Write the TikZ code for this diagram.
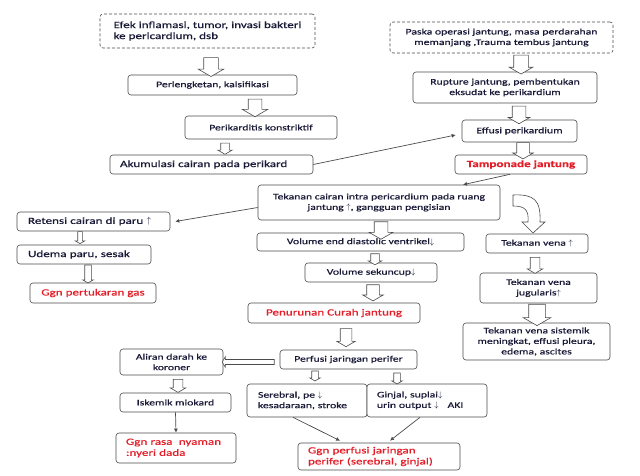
\documentclass[tikz,border=0pt]{standalone}
\usepackage{fontspec}
\setmainfont[FakeStretch=1.38,FakeBold=0.6]{Carlito}
\usetikzlibrary{shapes.arrows,arrows.meta}

\definecolor{garis}{RGB}{75,75,75}
\definecolor{teks}{RGB}{25,25,55}
\definecolor{merah}{RGB}{228,30,40}

\tikzset{
  kotak/.style={draw=garis, line width=0.6pt, rounded corners=3pt, fill=white,
    text=teks, align=center, inner sep=2pt, font=\fontsize{8.5}{10.5}\selectfont},
  besar/.style={font=\fontsize{9.5}{11}\selectfont},
  sumber/.style={kotak, dash pattern=on 3pt off 2pt},
  hasil/.style={text=merah},
  kiri/.style={align=left, text width=#1},
  blok/.style 2 args={single arrow, draw=garis, fill=white, line width=0.6pt,
    inner sep=#1, single arrow head extend=#2, single arrow tip angle=120,
    shape border rotate=270},
  panah/.style={draw=garis, line width=0.7pt, -{Latex[length=4pt,width=4pt]}}
}

\begin{document}
\begin{tikzpicture}[x=1pt, y=-1pt]
    \useasboundingbox (0,0) rectangle (640,476);

    % --- cabang kiri atas ---
    \node[sumber, besar, minimum width=215pt, minimum height=34pt, align=left] (src1) at (207.5,31)
        {Efek inflamasi, tumor, invasi bakteri\\ke pericardium, dsb};
    \node[kotak, minimum width=169pt, minimum height=20pt] (perleng) at (212.5,85) {Perlengketan, kalsifikasi};
    \node[kotak, minimum width=152pt, minimum height=23pt] (perikon) at (261,127.5) {Perikarditis konstriktif};
    \node[kotak, besar, kiri=183pt, minimum width=203pt, minimum height=19pt] (akum) at (211.5,164.5)
        {Akumulasi cairan pada perikard};

    % --- cabang kanan atas ---
    \node[sumber, minimum width=223pt, minimum height=31pt] (src2) at (501.5,37.5)
        {Paska operasi jantung, masa perdarahan\\memanjang ,Trauma tembus jantung};
    \node[kotak, minimum width=184pt, minimum height=31pt] (rupture) at (505,87.5)
        {Rupture jantung, pembentukan\\eksudat ke perikardium};
    \node[kotak, minimum width=115pt, minimum height=22pt] (effusi) at (519.5,131) {Effusi perikardium};
    \node[kotak, besar, hasil, minimum width=132pt, minimum height=19pt] (tampon) at (521,164.5)
        {\bfseries Tamponade jantung};

    % --- tengah ---
    \node[kotak, minimum width=242pt, minimum height=35pt] (tekanan) at (379,202.5)
        {Tekanan cairan intra pericardium pada ruang\\jantung $\uparrow$, gangguan pengisian};
    \node[kotak, minimum width=207pt, minimum height=18pt] (ved) at (360.5,242)
        {Volume end diastolic ventrikel$\downarrow$};
    \node[kotak, minimum width=132pt, minimum height=19pt] (vs) at (371,272.5) {Volume sekuncup$\downarrow$};
    \node[kotak, besar, hasil, minimum width=172pt, minimum height=20pt] (curah) at (334,313)
        {Penurunan Curah jantung};
    \node[kotak, minimum width=137pt, minimum height=19pt] (perfusi) at (348.5,359.5) {Perfusi jaringan perifer};

    % --- paru ---
    \node[kotak, besar, kiri=131pt, minimum width=153pt, minimum height=19pt] (retensi) at (93.5,221.5)
        {Retensi cairan di paru $\uparrow$};
    \node[kotak, besar, kiri=112pt, minimum width=134pt, minimum height=19pt] (udema) at (84,254.5)
        {Udema paru, sesak};
    \node[kotak, besar, hasil, minimum width=126pt, minimum height=20pt] (ggnpert) at (93,293)
        {Ggn pertukaran gas};

    % --- vena ---
    \node[kotak, minimum width=102pt, minimum height=19pt] (tekvena) at (537,243.5) {Tekanan vena $\uparrow$};
    \node[kotak, minimum width=117pt, minimum height=30pt] (jugul) at (538.5,288)
        {Tekanan vena\\jugularis$\uparrow$};
    \node[kotak, minimum width=147pt, minimum height=37pt] (sistemik) at (536.5,341.5)
        {Tekanan vena sistemik\\meningkat, effusi pleura,\\edema, ascites};

    % --- koroner ---
    \node[kotak, minimum width=103pt, minimum height=26pt] (aliran) at (171.5,362) {Aliran darah ke\\koroner};
    \node[kotak, minimum width=111pt, minimum height=19pt] (iskemik) at (175.5,402.5) {Iskemik miokard};
    \node[kotak, besar, hasil, kiri=100pt, minimum width=120pt, minimum height=30pt] (ggnrasa) at (176,448)
        {Ggn rasa~ nyaman\\:nyeri dada};

    % --- perifer ---
    \node[kotak, kiri=98pt, minimum width=120pt, minimum height=33pt] (serebral) at (307,400.5)
        {Serebral, pe $\downarrow$\\kesadaraan, stroke};
    \node[kotak, kiri=100pt, minimum width=120pt, minimum height=33pt] (ginjal) at (427,400.5)
        {Ginjal, suplai$\downarrow$\\urin output $\downarrow$\hspace{9pt}AKI};
    \node[kotak, besar, hasil, kiri=142pt, minimum width=162pt, minimum height=27pt] (ggnperf) at (379,456.5)
        {Ggn perfusi jaringan\\perifer (serebral, ginjal)};

    % --- panah blok ---
    \node[blok={7pt}{5.5pt}, minimum height=16pt] (a1) at (211,65) {};
    \node[blok={6.5pt}{6pt}, minimum height=13pt] (a2) at (255,106) {};
    \node[blok={4pt}{3pt}, minimum height=9pt] (a3) at (225,147.5) {};
    \node[blok={7pt}{4.5pt}, minimum height=11pt] (a4) at (521,62.5) {};
    \node[blok={6.5pt}{4pt}, minimum height=12pt] (a5) at (519,113) {};
    \node[blok={6pt}{4pt}, minimum height=12pt] (a6) at (523,149) {};
    \node[blok={6.5pt}{5pt}, minimum height=11pt] (a7) at (381,228.5) {};
    \node[blok={4pt}{2.5pt}, minimum height=10pt] (a8) at (375,258) {};
    \node[blok={6pt}{4pt}, minimum height=16pt] (a9) at (373,291) {};
    \node[blok={5.5pt}{3.5pt}, minimum height=18pt] (a10) at (346,336) {};
    \node[blok={2.2pt}{2.8pt}, minimum height=52pt, shape border rotate=180] (a11) at (249,362) {};
    \node[blok={3pt}{2pt}, minimum height=10pt] (a12) at (315,375) {};
    \node[blok={3pt}{2pt}, minimum height=11pt] (a13) at (397,377.5) {};
    \node[blok={2pt}{2.5pt}, minimum height=12pt] (a14) at (80,237) {};
    \node[blok={3pt}{2pt}, minimum height=18pt] (a15) at (88,273) {};
    \node[blok={4.5pt}{3pt}, minimum height=16pt] (a16) at (535,264) {};
    \node[blok={8pt}{5.5pt}, minimum height=15pt] (a17) at (537,312.5) {};
    \node[blok={4.5pt}{3pt}, minimum height=13pt] (a18) at (178,384.5) {};

    % panah lengkung ke tekanan vena
    \draw[draw=garis, fill=white, line width=0.6pt] (513,195) .. controls (534,194) and (541,200) .. (540,222)
        -- (545,222) -- (533,233) -- (522,222) -- (528,222)
        .. controls (529,210) and (525,206) .. (513,206) -- cycle;

    % --- panah garis ---
    \draw[panah] (akum.east) -- ([xshift=-6pt,yshift=-4pt]effusi.west);
    \draw[panah] ([xshift=-11pt]tampon.south) -- ([xshift=84pt]tekanan.north);
    \draw[panah] ([yshift=-5pt]tekanan.west) -- ([xshift=5pt]retensi.east);
    \draw[panah] (iskemik.south) -- (ggnrasa.north);
    \draw[panah] ([xshift=-14pt]serebral.south) -- ([xshift=-39pt,yshift=2pt]ggnperf.north);
    \draw[panah] ([xshift=-7pt]ginjal.south) -- ([xshift=11pt,yshift=2pt]ggnperf.north);

\end{tikzpicture}
\end{document}
